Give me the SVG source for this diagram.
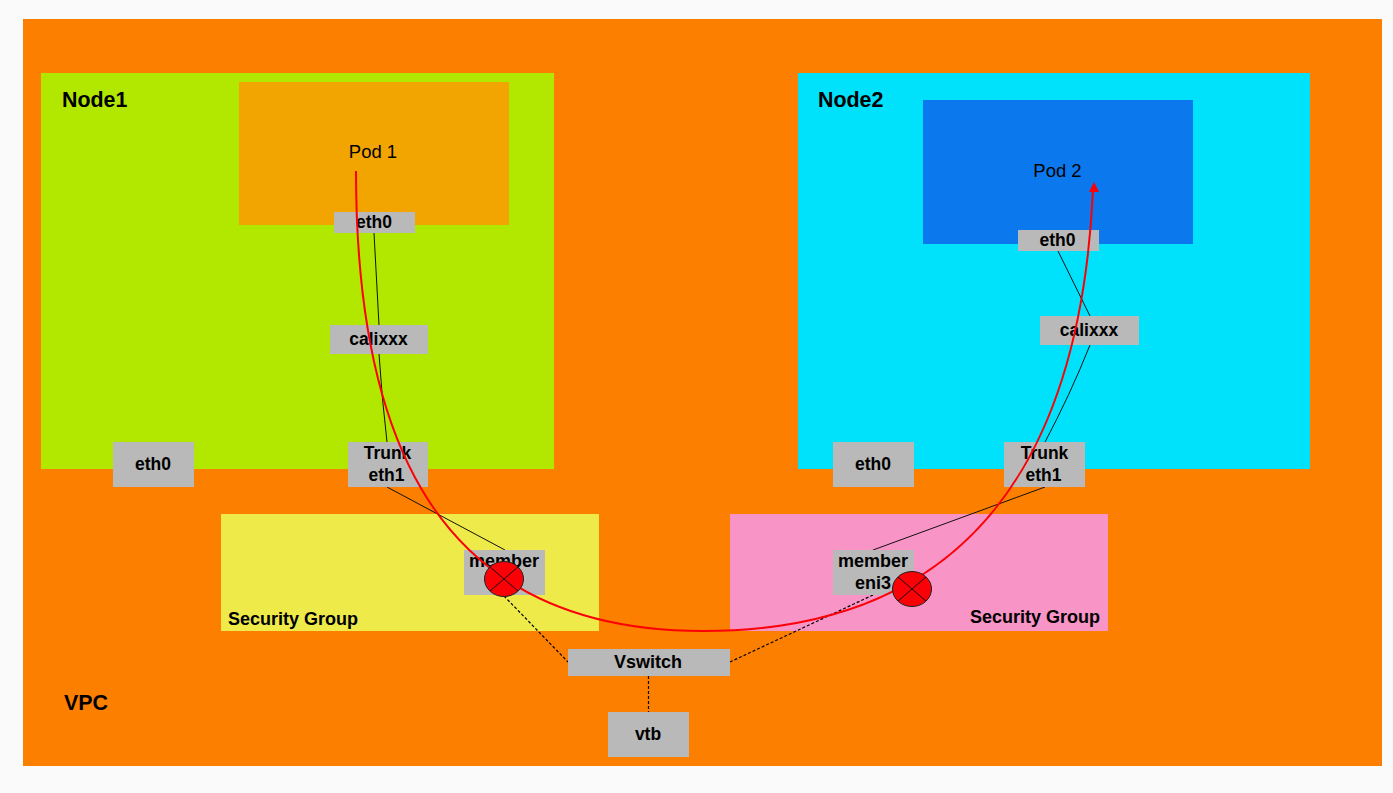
<svg xmlns="http://www.w3.org/2000/svg" width="1393" height="793" viewBox="0 0 1393 793">
<defs>
<style>
text{font-family:"Liberation Sans",Arial,sans-serif;fill:#000;text-anchor:middle}
.b{font-weight:bold;font-size:17.500px}
.m{font-weight:bold;font-size:18px}
.h{font-weight:bold;font-size:21.400px;text-anchor:start}
.sg{font-weight:bold;font-size:18px;text-anchor:start}
.p{font-size:18.500px}
.box{fill:#b9b9b9}
.l{fill:none;stroke:#111;stroke-width:1}
.d{fill:none;stroke:#000;stroke-width:1.200;stroke-dasharray:3 2}
.x{fill:#fb0006;stroke:#222;stroke-width:1}
</style>
</defs>
<rect width="1393" height="793" fill="#fafafa"/>
<g id="vpc"><rect x="23" y="19" width="1359" height="747" fill="#fd7f00"/><text class="h" x="64" y="710">VPC</text></g>
<g id="node1"><rect x="41" y="73" width="513" height="396" fill="#b2e800"/><text class="h" x="62" y="107">Node1</text></g>
<g id="node2"><rect x="798" y="73" width="512" height="396" fill="#00e1fc"/><text class="h" x="818" y="107">Node2</text></g>
<g id="pod1"><rect x="239" y="82" width="270" height="143" fill="#f2a500"/><text class="p" x="373" y="158">Pod 1</text></g>
<g id="pod2"><rect x="923" y="100" width="270" height="144" fill="#0b78ee"/><text class="p" x="1057.500" y="177">Pod 2</text></g>
<g id="sg1"><rect x="221" y="514" width="378" height="117" fill="#eeea4a"/><text class="sg" x="228" y="625">Security Group</text></g>
<g id="sg2"><rect x="730" y="514" width="378" height="117" fill="#f994c6"/><text class="sg" x="970" y="623">Security Group</text></g>
<g id="connectors">
<path class="l" d="M374 233 L379 325"/>
<path class="l" d="M379 354 Q382 400 387 442"/>
<path class="l" d="M387 487 L505 550"/>
<path class="l" d="M1058 251 L1090 316"/>
<path class="l" d="M1090 345 Q1070 395 1045 442"/>
<path class="l" d="M1045 487 L873 550"/>
<path class="d" d="M504 596 L568 662"/>
<path class="d" d="M873 595 L730 662"/>
<path class="d" d="M648.500 676 L648.500 712"/>
</g>
<g id="eth0-pod1"><rect class="box" x="334" y="212" width="81" height="21"/><text class="b" x="374" y="228">eth0</text></g>
<g id="calixxx1"><rect class="box" x="330" y="325" width="98" height="29"/><text class="b" x="378.500" y="345">calixxx</text></g>
<g id="eth0-node1"><rect class="box" x="113" y="442" width="81" height="45"/><text class="b" x="153" y="470">eth0</text></g>
<g id="trunk1"><rect class="box" x="348" y="442" width="80" height="45"/><text class="b" x="387.500" y="459">Trunk</text><text class="b" x="386.500" y="481">eth1</text></g>
<g id="eth0-pod2"><rect class="box" x="1018" y="230" width="81" height="21"/><text class="b" x="1057.500" y="246">eth0</text></g>
<g id="calixxx2"><rect class="box" x="1040" y="316" width="99" height="29"/><text class="b" x="1089" y="336">calixxx</text></g>
<g id="eth0-node2"><rect class="box" x="833" y="442" width="81" height="45"/><text class="b" x="873" y="470">eth0</text></g>
<g id="trunk2"><rect class="box" x="1004" y="442" width="81" height="45"/><text class="b" x="1044.500" y="459">Trunk</text><text class="b" x="1043.500" y="481">eth1</text></g>
<g id="member1"><rect class="box" x="464" y="550" width="81" height="45"/><text class="m" x="504" y="567">member</text></g>
<g id="member2"><rect class="box" x="833" y="550" width="81" height="45"/><text class="m" x="873" y="567">member</text><text class="m" x="873" y="589">eni3</text></g>
<g id="vswitch"><rect class="box" x="568" y="649" width="162" height="27"/><text class="m" x="648" y="668">Vswitch</text></g>
<g id="vtb"><rect class="box" x="608" y="712" width="81" height="45"/><text class="b" x="648" y="740">vtb</text></g>
<g id="route">
<path d="M356 171 C356 435 433 631 703 631 C960 631 1080 470 1093 190" fill="none" stroke="#fb0006" stroke-width="2"/>
<path d="M1094 182 L1099 192 L1089 192 Z" fill="#fb0006"/>
</g>
<g id="x1"><ellipse class="x" cx="504" cy="579" rx="19.500" ry="17.500"/><path class="l" d="M490 567 L518 591 M518 567 L490 591"/></g>
<g id="x2"><ellipse class="x" cx="912" cy="589" rx="19.500" ry="17.500"/><path class="l" d="M898 577 L926 601 M926 577 L898 601"/></g>
</svg>
